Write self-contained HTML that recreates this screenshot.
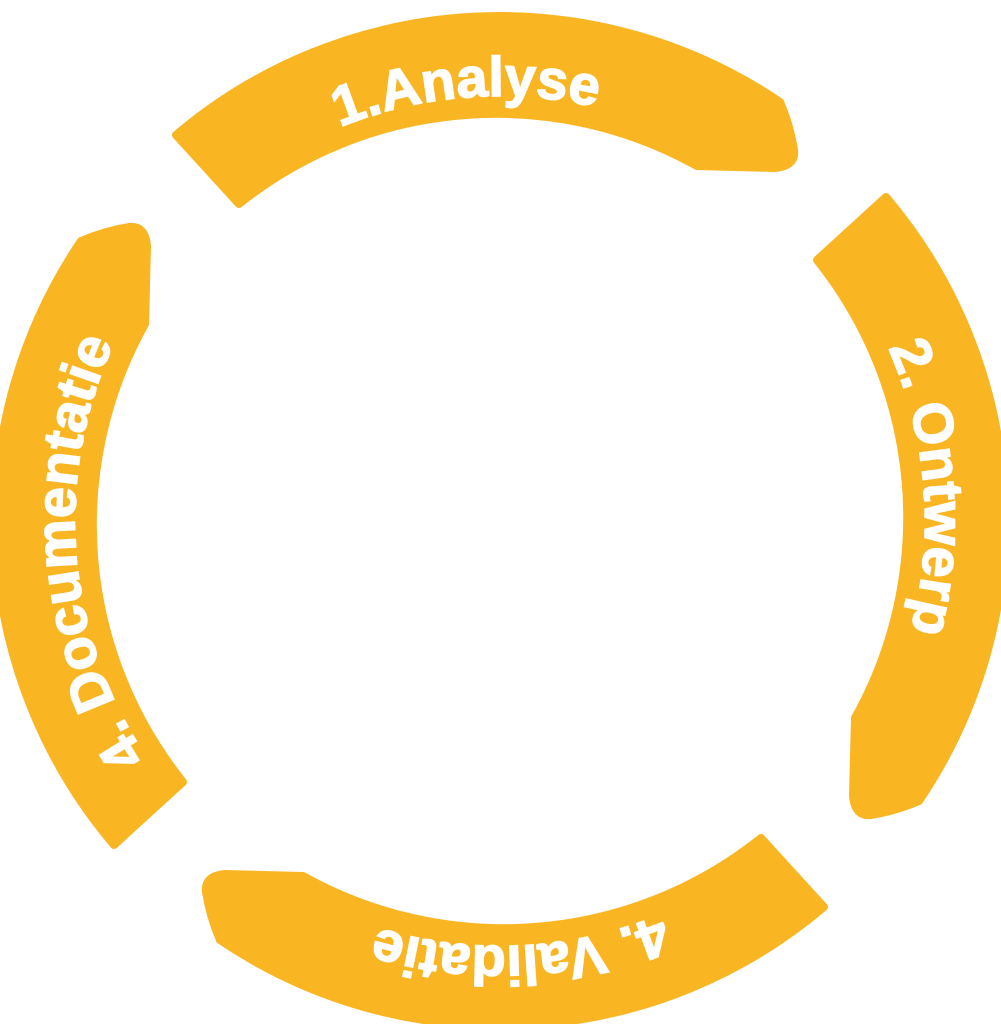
<!DOCTYPE html>
<html><head><meta charset="utf-8"><style>
html,body{margin:0;padding:0;background:#fff;}
svg{display:block}
text{font-family:"Liberation Sans",sans-serif;font-weight:900;font-size:56px;fill:#fff;letter-spacing:0px;stroke:#fff;stroke-width:1.5px}
</style></head><body>
<svg width="1001" height="1024" viewBox="0 0 1001 1024" xmlns="http://www.w3.org/2000/svg">
<defs>
<path id="seg" d="M176,135 A500,500 0 0 1 780,102 Q790,125 794,150 Q796,166 775,168 L697,166 A412,412 0 0 0 239,204 Z"/>
<path id="tp" d="M75,521 A425,425 0 0 1 925,521"/>
</defs>
<g fill="#F9B522" stroke="#F9B522" stroke-width="8" stroke-linejoin="round">
<use href="#seg"/>
<use href="#seg" transform="rotate(90 500 521)"/>
<use href="#seg" transform="rotate(180 500 521)"/>
<use href="#seg" transform="rotate(270 500 521)"/>
</g>
<g>
<text><textPath href="#tp" startOffset="47.5%" text-anchor="middle">1.Analyse</textPath></text>
<text transform="rotate(90 500 521)"><textPath href="#tp" startOffset="47.5%" text-anchor="middle">2. Ontwerp</textPath></text>
<text transform="rotate(180 500 521)"><textPath href="#tp" startOffset="48.5%" text-anchor="middle">4. Validatie</textPath></text>
<text transform="rotate(270 500 521)"><textPath href="#tp" startOffset="47.5%" text-anchor="middle">4. Documentatie</textPath></text>
</g>
</svg>
</body></html>
